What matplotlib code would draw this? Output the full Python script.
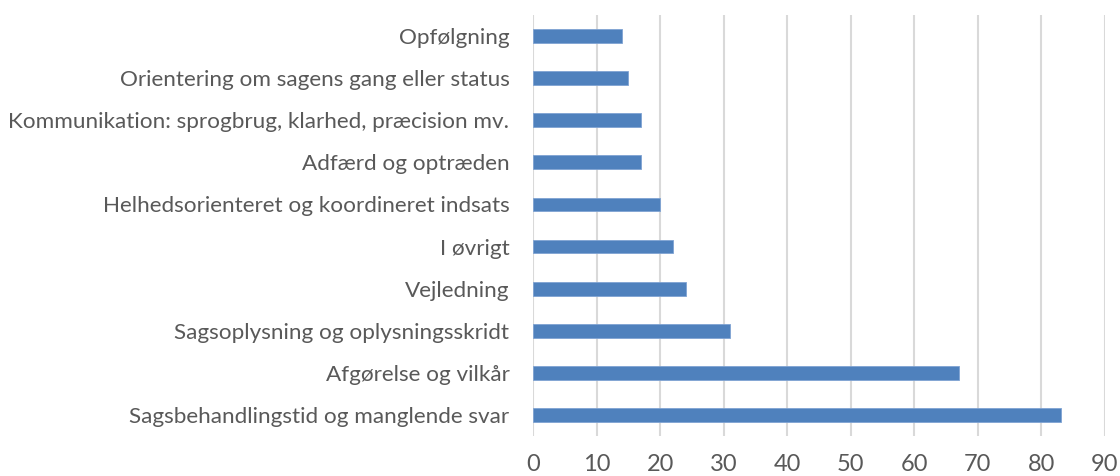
import matplotlib
matplotlib.use("Agg")
import matplotlib.pyplot as plt

# categories listed bottom to top
categories = [
    "Sagsbehandlingstid og manglende svar",
    "Afgørelse og vilkår",
    "Sagsoplysning og oplysningsskridt",
    "Vejledning",
    "I øvrigt",
    "Helhedsorienteret og koordineret indsats",
    "Adfærd og optræden",
    "Kommunikation: sprogbrug, klarhed, præcision mv.",
    "Orientering om sagens gang eller status",
    "Opfølgning",
]
values = [83, 67, 31, 24, 22, 20, 17, 17, 15, 14]
xticks = list(range(0, 100, 10))

plt.rcParams["font.family"] = ["Lato", "DejaVu Sans"]

fig = plt.figure(figsize=(11.2, 4.76), dpi=100)
ax = fig.add_axes([533 / 1120, 1 - 436 / 476, (1105 - 533) / 1120, 421 / 476])

ypos = range(len(categories))
ax.barh(ypos, values, height=0.33, color="#4F81BD", edgecolor="#7FA3D3", linewidth=0.6, zorder=3)

ax.set_xlim(0, 90)
ax.set_ylim(-0.5, len(categories) - 0.5)
ax.set_xticks(xticks)
ax.set_yticks(list(ypos))
ax.set_yticklabels(categories)
ax.xaxis.grid(True, color="#D9D9D9", linewidth=1.5, zorder=0)
ax.set_axisbelow(True)
for s in ax.spines.values():
    s.set_visible(False)
ax.tick_params(axis="y", length=0, pad=17, labelsize=16.2, labelcolor="#595959")
ax.tick_params(axis="x", length=0, pad=13, labelsize=17, labelcolor="#595959")

fig.savefig("out.png", dpi=100)
